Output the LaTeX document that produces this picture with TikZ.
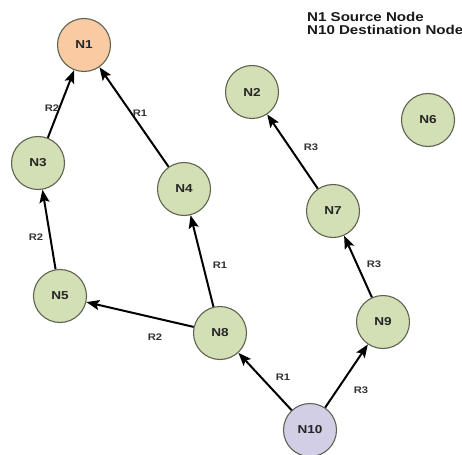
\documentclass[tikz,border=0pt]{standalone}
\usepackage{fontspec}
\usetikzlibrary{arrows.meta}
\newfontfamily\wideSans[FakeStretch=1.18]{Liberation Sans}
\definecolor{nodegreen}{RGB}{211,223,180}
\definecolor{nodepeach}{RGB}{250,202,163}
\definecolor{nodelilac}{RGB}{210,206,229}
\definecolor{nodeedge}{RGB}{95,98,80}
\definecolor{labelgray}{RGB}{50,50,50}
\tikzset{
  netnode/.style={circle, draw=nodeedge, line width=1.1pt, minimum size=53pt,
    inner sep=0pt, fill=nodegreen, text=black!85,
    font=\wideSans\bfseries\fontsize{11.5}{13}\selectfont},
  source/.style={netnode, fill=nodepeach},
  dest/.style={netnode, fill=nodelilac},
  route/.style={-{Stealth[length=13pt,width=10pt,inset=2.5pt]}, line width=2pt, black},
  rlabel/.style={text=labelgray, inner sep=0pt,
    font=\wideSans\bfseries\fontsize{9.5}{11}\selectfont},
  legend/.style={anchor=base west, inner sep=0pt, text=black!90,
    font=\wideSans\bfseries\fontsize{12.8}{15}\selectfont}
}
\begin{document}
\begin{tikzpicture}[x=1pt, y=-1pt]
  \useasboundingbox (0,0) rectangle (462,454);

  % nodes
  \node[source] (N1)  at (84,45)   {N1};
  \node[netnode] (N2) at (252,92)  {N2};
  \node[netnode] (N3) at (38,163)  {N3};
  \node[netnode] (N4) at (184,189) {N4};
  \node[netnode] (N5) at (60,296)  {N5};
  \node[netnode] (N6) at (428,120) {N6};
  \node[netnode] (N7) at (333,211) {N7};
  \node[netnode] (N8) at (220,333) {N8};
  \node[netnode] (N9) at (383,322) {N9};
  \node[dest] (N10)   at (310,430) {N10};

  % routes
  \draw[route] (N3) -- (N1);
  \draw[route] (N4) -- (N1);
  \draw[route] (N5) -- (N3);
  \draw[route] (N8) -- (N4);
  \draw[route] (N8) -- (N5);
  \draw[route] (N10) -- (N8);
  \draw[route] (N10) -- (N9);
  \draw[route] (N9) -- (N7);
  \draw[route] (N7) -- (N2);

  % route labels
  \node[rlabel] (l31)  at (52,108)  {R2};
  \node[rlabel] (l41)  at (140,113) {R1};
  \node[rlabel] (l53)  at (36,237)  {R2};
  \node[rlabel] (l84)  at (220,265) {R1};
  \node[rlabel] (l85)  at (155,337) {R2};
  \node[rlabel] (l72)  at (311,147) {R3};
  \node[rlabel] (l97)  at (374,264) {R3};
  \node[rlabel] (l108) at (283,377) {R1};
  \node[rlabel] (l109) at (361,390) {R3};

  % legend
  \node[legend] (leg1) at (307,22)   {N1 Source Node};
  \node[legend] (leg2) at (307,34.5) {N10 Destination Node};
\end{tikzpicture}
\end{document}
